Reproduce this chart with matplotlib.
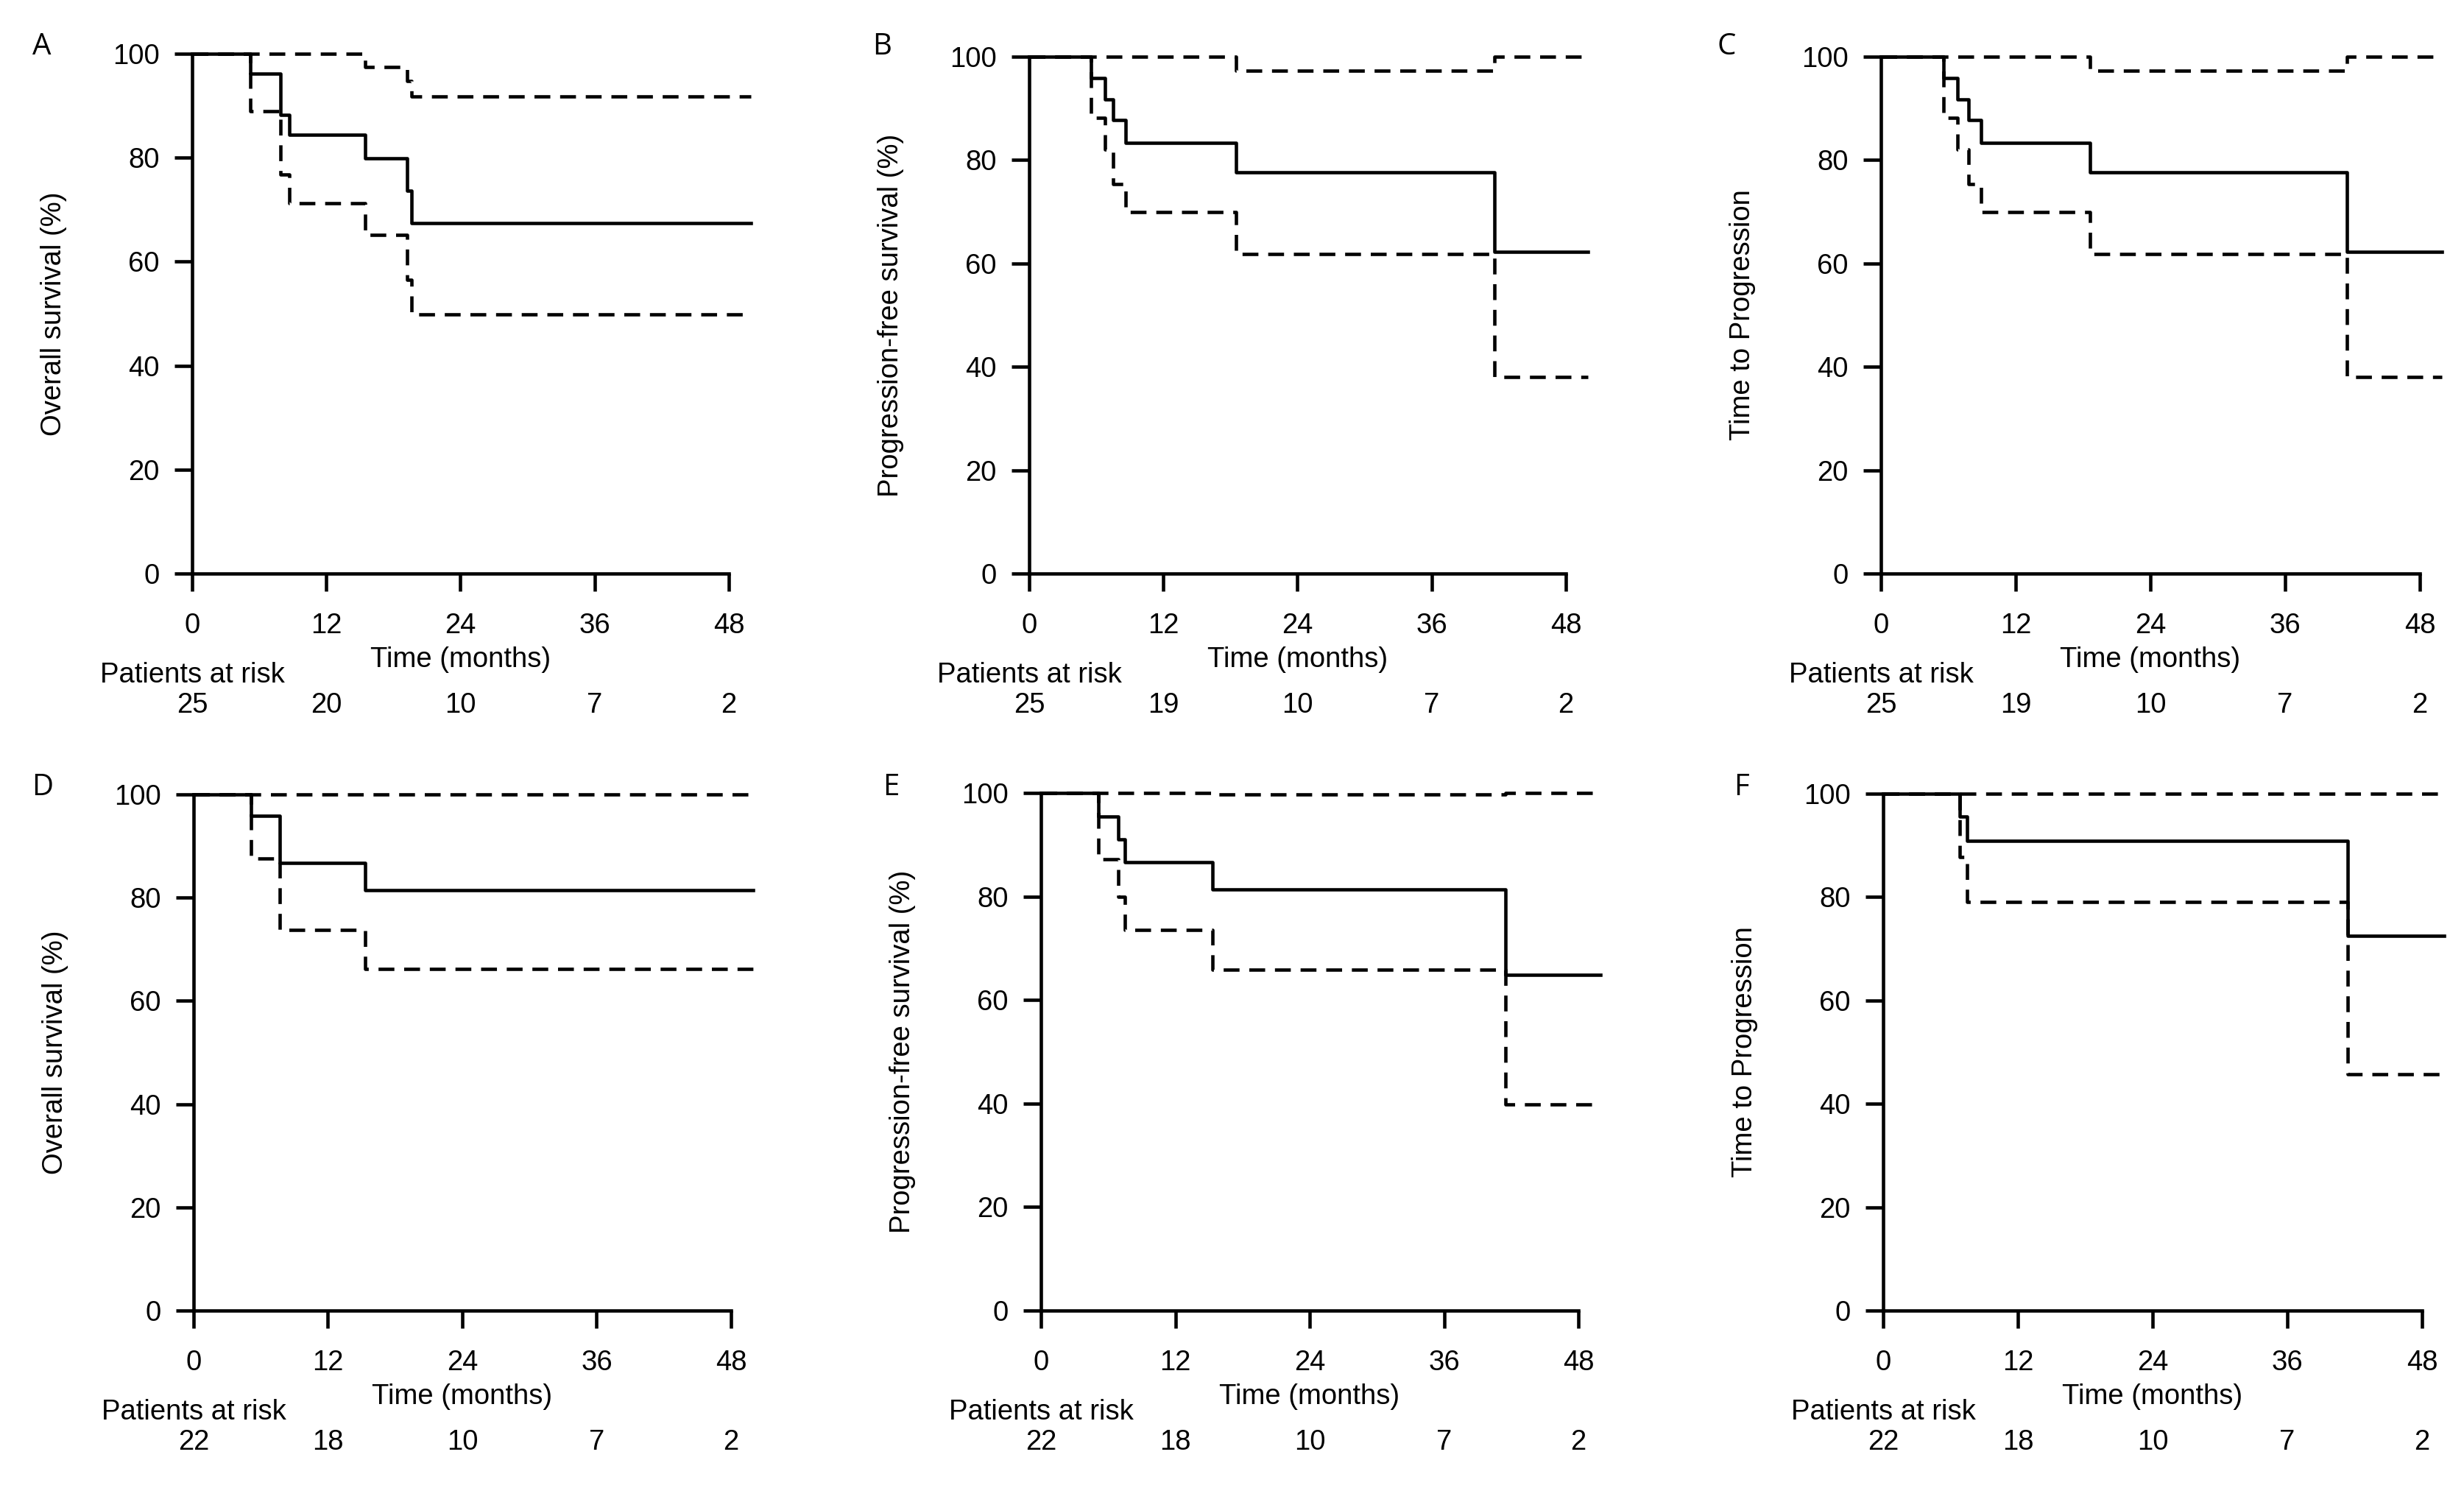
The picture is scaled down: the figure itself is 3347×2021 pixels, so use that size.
import matplotlib
matplotlib.use("Agg")
import matplotlib.pyplot as plt

plt.rcParams['font.family'] = ['Liberation Sans', 'DejaVu Sans']

# axis ticks shared by every panel
time_ticks = [0, 12, 24, 36, 48]
surv_ticks = [0, 20, 40, 60, 80, 100]

# numbers at risk under each panel
risk_top = [25, 20, 10, 7, 2]
risk_top_pfs = [25, 19, 10, 7, 2]
risk_bottom = [22, 18, 10, 7, 2]

# A - overall survival, cohort 1 (estimate, upper and lower band)
A_t = [0, 5.2, 7.9, 8.7, 15.5, 19.2, 19.6, 50]
A_est = [100, 96.2, 88.3, 84.4, 79.9, 73.6, 67.4, 67.4]
A_lo = [100, 89.0, 76.8, 71.2, 65.2, 56.5, 49.9, 49.9]
A_hi_t = [0, 15.5, 19.2, 19.6, 50]
A_hi = [100, 97.5, 94.7, 91.8, 91.8]

# B - progression-free survival, cohort 1
B_t = [0, 5.5, 6.8, 7.5, 8.6, 18.5, 41.6, 50]
B_est = [100, 95.9, 91.7, 87.7, 83.4, 77.6, 62.2, 62.2]
B_lo = [100, 88.2, 82.0, 75.4, 70.0, 61.8, 38.0, 38.0]
B_hi_t = [0, 18.5, 41.6, 50]
B_hi = [100, 97.3, 100, 100]

# C - time to progression, cohort 1
C_t = [0, 5.6, 6.8, 7.8, 8.9, 18.6, 41.5, 50]
C_est = [100, 95.9, 91.7, 87.7, 83.4, 77.6, 62.2, 62.2]
C_lo = [100, 88.2, 82.0, 75.4, 70.0, 61.8, 38.0, 38.0]
C_hi_t = [0, 18.6, 41.5, 50]
C_hi = [100, 97.3, 100, 100]

# D - overall survival, cohort 2
D_t = [0, 5.1, 7.7, 15.3, 50]
D_est = [100, 95.8, 86.8, 81.5, 81.5]
D_lo = [100, 87.6, 73.8, 66.2, 66.2]
D_hi_t = [0, 50]
D_hi = [100, 100]

# E - progression-free survival, cohort 2
E_t = [0, 5.1, 6.9, 7.5, 15.3, 41.5, 50]
E_est = [100, 95.5, 91.0, 86.6, 81.3, 64.8, 64.8]
E_lo = [100, 87.2, 79.9, 73.5, 65.9, 39.8, 39.8]
E_hi_t = [0, 15.3, 41.5, 50]
E_hi = [100, 99.7, 100, 100]

# F - time to progression, cohort 2
F_t = [0, 6.8, 7.5, 41.4, 50]
F_est = [100, 95.6, 90.9, 72.5, 72.5]
F_lo = [100, 87.8, 79.0, 45.7, 45.7]
F_hi_t = [0, 50]
F_hi = [100, 100]

W, H = 3348, 2021
fig = plt.figure(figsize=(W / 100, H / 100), dpi=100, facecolor='white')

LW = 3.3
FS = 27.5
DASH = (4.7, 2.9)

# pixel layout: x of 0 and 48 months, y of 100 % and 0 %
panels = [
    ('A', 'Overall survival (%)', 261, 990, 73, 779, A_t, A_est, A_lo, A_hi_t, A_hi, risk_top, (57, 64)),
    ('B', 'Progression-free survival (%)', 1398, 2127, 77, 779, B_t, B_est, B_lo, B_hi_t, B_hi, risk_top_pfs, (1198, 64)),
    ('C', 'Time to Progression', 2555, 3287, 77, 779, C_t, C_est, C_lo, C_hi_t, C_hi, risk_top_pfs, (2345, 64)),
    ('D', 'Overall survival (%)', 263, 993, 1079, 1780, D_t, D_est, D_lo, D_hi_t, D_hi, risk_bottom, (58, 1070)),
    ('E', 'Progression-free survival (%)', 1414, 2144, 1077, 1780, E_t, E_est, E_lo, E_hi_t, E_hi, risk_bottom, (1210, 1070)),
    ('F', 'Time to Progression', 2558, 3290, 1078, 1780, F_t, F_est, F_lo, F_hi_t, F_hi, risk_bottom, (2366, 1070)),
]

for (letter, ylab, x0, x48, y100, y0, t, est, lo, hi_t, hi, risk, lpos) in panels:
    pxm = (x48 - x0) / 48.0
    wpx = 50 * pxm
    hpx = y0 - y100
    ax = fig.add_axes([x0 / W, 1 - y0 / H, wpx / W, hpx / H])
    ax.set_xlim(0, 50)
    ax.set_ylim(0, 100)

    ax.step(t, est, where='post', color='black', lw=LW, clip_on=False)
    ax.step(t, lo, where='post', color='black', lw=LW, clip_on=False, dashes=DASH)
    ax.step(hi_t, hi, where='post', color='black', lw=LW, clip_on=False, dashes=DASH)

    for s in ['top', 'right']:
        ax.spines[s].set_visible(False)
    ax.spines['bottom'].set_bounds(0, 48)
    ax.spines['left'].set_bounds(0, 100)
    for s in ['bottom', 'left']:
        ax.spines[s].set_linewidth(LW)

    ax.set_xticks(time_ticks)
    ax.set_yticks(surv_ticks)
    ax.tick_params(axis='both', direction='out', length=17, width=LW, labelsize=FS, colors='black')
    ax.tick_params(axis='x', pad=21)
    ax.tick_params(axis='y', pad=15)

    ax.text(-188 / wpx, 0.5, ylab, transform=ax.transAxes, rotation=90,
            ha='center', va='center', fontsize=FS)

    tr = ax.get_xaxis_transform()
    ax.text(24, -117 / hpx, 'Time (months)', transform=tr, ha='center', va='center', fontsize=FS)
    ax.text(0, -138 / hpx, 'Patients at risk', transform=tr, ha='center', va='center', fontsize=FS)
    for xt, n in zip(time_ticks, risk):
        ax.text(xt, -179 / hpx, str(n), transform=tr, ha='center', va='center', fontsize=FS)

    fig.text(lpos[0] / W, 1 - lpos[1] / H, letter, ha='center', va='center',
             fontsize=29, family=['Open Sans', 'DejaVu Sans'])

fig.savefig('out.png', dpi=100, facecolor='white')
